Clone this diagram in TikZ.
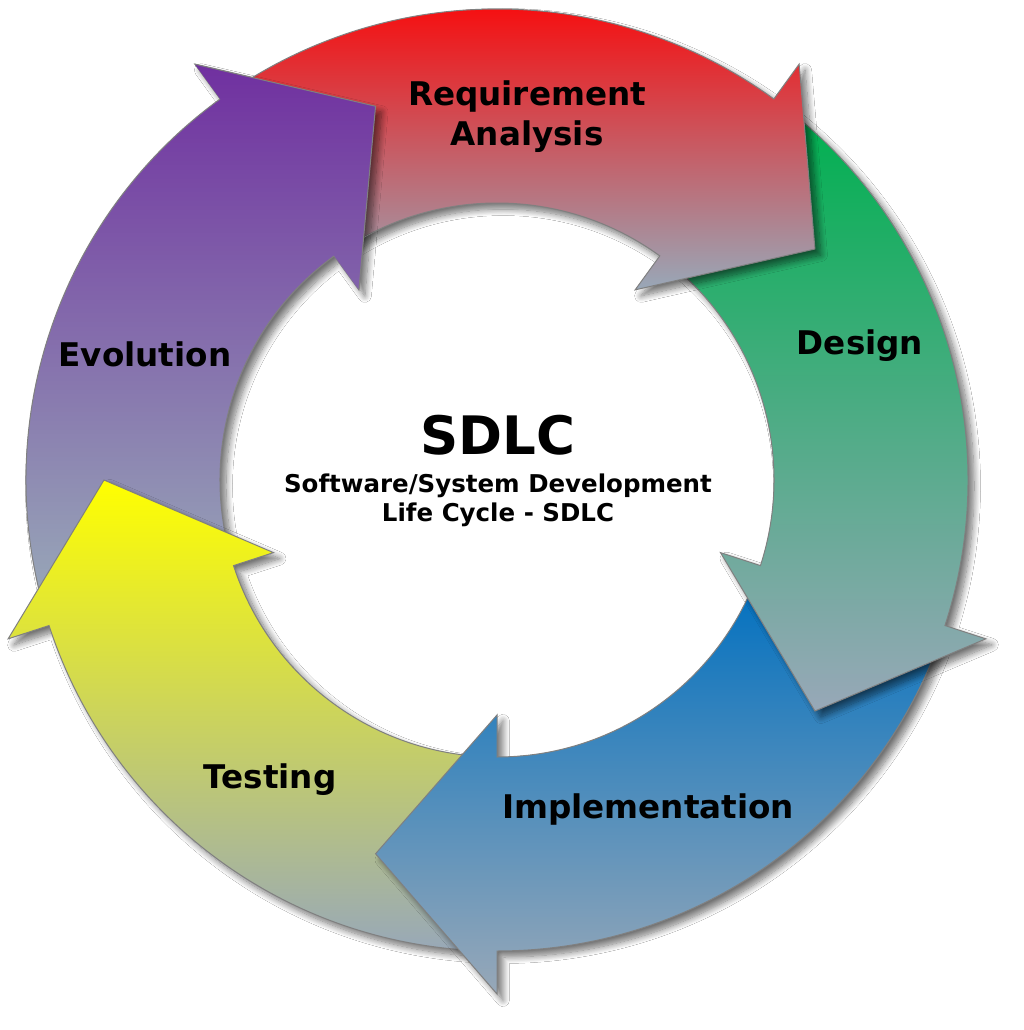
\documentclass[tikz,border=0pt]{standalone}
\usepackage{fontspec}
\setmainfont{DejaVu Sans}
\usetikzlibrary{shadows.blur}
\definecolor{cRed}{HTML}{FF0000}
\definecolor{cGreen}{HTML}{00B050}
\definecolor{cBlue}{HTML}{0070C0}
\definecolor{cYellow}{HTML}{FFFF00}
\definecolor{cPurple}{HTML}{7030A0}
\definecolor{cFade}{HTML}{98A8B8}
\definecolor{cEdge}{HTML}{808080}
% angles: tail (hidden under previous head), back edge of head, tip
\newcommand\setang[1]{\pgfmathsetmacro\aT{#1+69}\pgfmathsetmacro\aB{#1}\pgfmathsetmacro\aP{#1-18}}
\newcommand\bodypath{(\aT:471) arc[start angle=\aT, end angle=\aB, radius=471] -- (\aB:514) -- (\aP:393) -- (\aB:235) -- (\aB:277) arc[start angle=\aB, end angle=\aT, radius=277] -- cycle}
\newcommand\headpath{(\aB:514) -- (\aP:393) -- (\aB:235) -- cycle}
\tikzset{
  shdw/.style={blur shadow={shadow xshift=6pt, shadow yshift=-6pt, shadow blur radius=6.5pt, shadow blur steps=12, shadow opacity=55}},
  arrowshape/.style={draw=cEdge, line width=1pt, line join=miter, top color=#1, bottom color=cFade, shdw},
  lbl/.style={font=\bfseries\fontsize{32.6}{40}\selectfont, align=center, text=black, inner sep=0pt},
}
\begin{document}
\begin{tikzpicture}[x=1pt,y=1pt]
\useasboundingbox[fill=white] (-497,-550) rectangle (527,480);
% arrows, drawn so that each head lies over the next tail
\setang{126}\path[arrowshape=cPurple] \bodypath;
\setang{198}\path[arrowshape=cYellow] \bodypath;
\setang{-90}\path[arrowshape=cBlue] \bodypath;
\setang{-18}\path[arrowshape=cGreen] \bodypath;
\setang{54}\path[arrowshape=cRed] \bodypath;
% purple head again, over the red tail
\begin{scope}
  \setang{54}\clip \bodypath;
  \setang{126}\path[shdw] \headpath;
\end{scope}
\begin{scope}
  \setang{126}\clip \headpath;
  \shade[top color=cPurple, bottom color=cFade] \bodypath;
\end{scope}
\setang{126}\draw[cEdge, line width=1pt, line join=miter] (\aB:514) -- (\aP:393) -- (\aB:235);
% labels
\node[lbl] (req) at (30,363) {Requirement\\Analysis};
\node[lbl, anchor=base] (des) at (363,125) {Design};
\node[lbl, anchor=base] (imp) at (151,-338) {Implementation};
\node[lbl, anchor=base] (tst) at (-227,-308) {Testing};
\node[lbl, anchor=base] (evo) at (-352,113) {Evolution};
\node[lbl, anchor=base, font=\bfseries\fontsize{53}{60}\selectfont] (sdlc) at (1,25) {SDLC};
\node[lbl, font=\bfseries\fontsize{24.5}{29}\selectfont] (sub) at (1,-20) {Software/System Development\\Life Cycle - SDLC};
\end{tikzpicture}
\end{document}
